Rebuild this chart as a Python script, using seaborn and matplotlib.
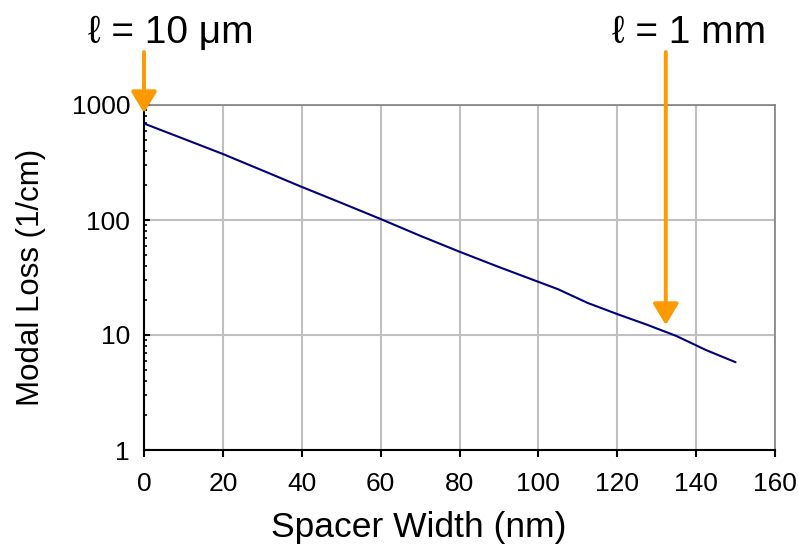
import matplotlib
matplotlib.use("Agg")
import matplotlib.pyplot as plt
import seaborn as sns
import pandas as pd
from matplotlib.ticker import LogLocator, NullFormatter, FixedLocator

# ---- data ----
spacer_width = [0, 10, 20, 30, 40, 50, 60, 70, 80, 90, 100, 105, 112.5, 120, 127.5, 135, 142.5, 150]
modal_loss = [690, 509, 375, 270, 194, 141, 102, 73, 53, 39, 29, 25, 19, 15.2, 12.3, 9.8, 7.4, 5.8]
x_ticks = [0, 20, 40, 60, 80, 100, 120, 140, 160]
y_ticks = [1, 10, 100, 1000]
y_tick_labels = ["1", "10", "100", "1000"]
annot_labels = ["ℓ = 10 μm", "ℓ = 1 mm"]
annot_x = [0, 132.3]
annot_tip = [850, 12.2]

df = pd.DataFrame({"Spacer Width (nm)": spacer_width, "Modal Loss (1/cm)": modal_loss})

sns.set_style("white")
plt.rcParams["font.family"] = ["Liberation Sans", "DejaVu Sans"]
plt.rcParams["text.color"] = "black"
plt.rcParams["axes.labelcolor"] = "black"
plt.rcParams["xtick.color"] = "black"
plt.rcParams["ytick.color"] = "black"

fig = plt.figure(figsize=(7.98, 5.47), dpi=100)
ax = fig.add_axes([144 / 798, 1 - 450 / 547, (775 - 144) / 798, (450 - 105) / 547])

sns.lineplot(data=df, x="Spacer Width (nm)", y="Modal Loss (1/cm)", ax=ax,
             color="#000080", linewidth=1.5, zorder=3)

ax.set_yscale("log")
ax.set_xlim(0, 160)
ax.set_ylim(1, 1000)
ax.xaxis.set_major_locator(FixedLocator(x_ticks))
ax.yaxis.set_major_locator(FixedLocator(y_ticks))
ax.set_yticklabels(y_tick_labels)
ax.yaxis.set_minor_locator(LogLocator(base=10, subs=range(2, 10)))
ax.yaxis.set_minor_formatter(NullFormatter())

ax.grid(True, which="major", color="#C0C0C0", linewidth=1.5)
ax.set_axisbelow(True)

for s in ["left", "bottom"]:
    ax.spines[s].set_color("black")
    ax.spines[s].set_linewidth(1.5)
for s in ["top", "right"]:
    ax.spines[s].set_color("#808080")
    ax.spines[s].set_linewidth(1.2)

ax.tick_params(axis="x", direction="out", length=5, width=1.5, color="black",
               labelcolor="black", labelsize=19, pad=11, bottom=True)
ax.tick_params(axis="y", which="major", direction="in", length=4, width=1.5,
               color="black", labelcolor="black", labelsize=19, pad=10, left=True)
ax.tick_params(axis="y", which="minor", direction="in", length=2.5, width=1.2,
               color="black", left=True)

ax.set_xlabel("Spacer Width (nm)", fontsize=25.5, color="black")
ax.xaxis.set_label_coords((418.5 - 144) / 631, -0.177)
ax.set_ylabel("Modal Loss (1/cm)", fontsize=22.5, color="black")
ax.yaxis.set_label_coords(-0.155, 0.5)

# arrows and annotations
ann_color = "#FF9900"
tail_frac = (450 - 52) / 345
for xv, tip in zip(annot_x, annot_tip):
    ax.annotate("", xy=(xv, tip), xycoords="data",
                xytext=(xv, tail_frac), textcoords=("data", "axes fraction"),
                arrowprops=dict(arrowstyle="-|>,head_length=0.5,head_width=0.3",
                                color=ann_color, lw=2.8,
                                mutation_scale=26, shrinkA=0, shrinkB=0),
                annotation_clip=False, zorder=5)

fig.text(171 / 798, 1 - 43 / 547, annot_labels[0], fontsize=28, ha="center", va="baseline", color="black")
fig.text(689 / 798, 1 - 43 / 547, annot_labels[1], fontsize=28, ha="center", va="baseline", color="black")

fig.savefig("out.png", dpi=100)
